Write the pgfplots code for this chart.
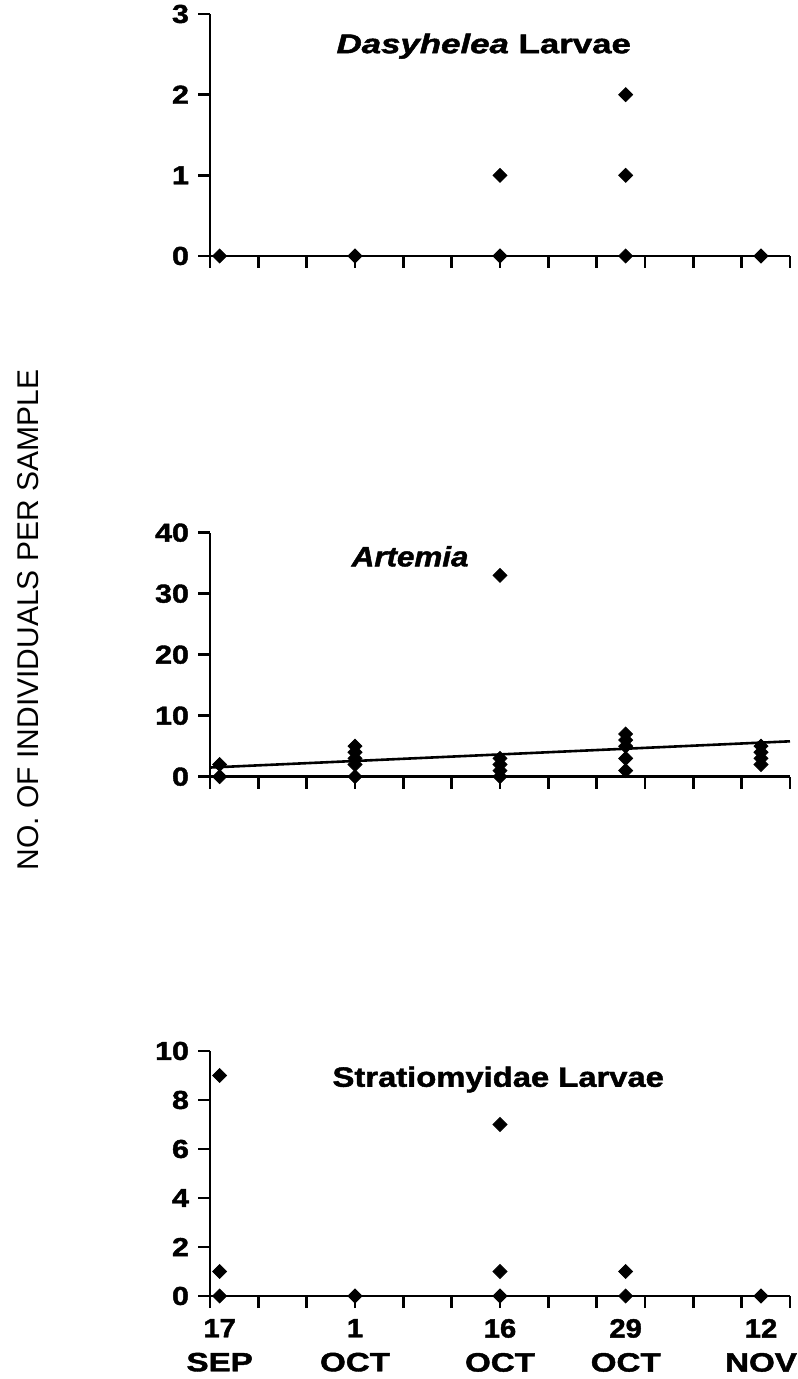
\documentclass[border=0pt]{standalone}
\usepackage{fontspec}
\setmainfont{Liberation Sans}[BoldFeatures={FakeBold=1.5}, BoldItalicFeatures={FakeBold=1.5}]
\usepackage{graphicx}
\usepackage{pgfplots}
\pgfplotsset{compat=1.18}

% two-line date label under the bottom panel
\newcommand\xl[2]{\scalebox{1.1}[1]{#1}\\\scalebox{1.25}[1]{#2}}

\tikzset{ttl/.style={anchor=base, font=\fontsize{14}{17}\bfseries\selectfont}}

\pgfplotsset{
  panel/.style={
    scale only axis, width=290pt,
    anchor=south west, clip=false,
    axis lines=left, axis line style={-, line width=1.3pt},
    xmin=0, xmax=60, xtick={0,5,...,60}, xticklabels={},
    tick align=outside, major tick length=6pt,
    tick style={black, line width=1.3pt},
    /pgf/number format/assume math mode=true,
    yticklabel style={font=\fontsize{13}{15}\bfseries\selectfont, xshift=-1pt},
    yticklabel={\scalebox{1.17}[1]{\pgfmathprintnumber{\tick}}},
  },
  pts/.style={only marks, mark=square*, mark size=2.47pt,
    mark options={rotate=45, fill=black, draw=black}},
}

% days counted from 16 Sep; samples on 17 Sep, 1 Oct, 16 Oct, 29 Oct, 12 Nov
\pgfplotstableread{
x y
1 0
15 0
30 0
30 1
43 0
43 1
43 2
57 0
}\dasyhelea

\pgfplotstableread{
x y
1 0
1 2
15 0
15 2
15 3
15 4
15 5
30 0
30 1
30 2
30 3
30 33
43 1
43 3
43 5
43 6
43 7
57 2
57 3
57 4
57 5
}\artemia

\pgfplotstableread{
x y
1 0
1 1
1 9
15 0
30 0
30 1
30 7
43 0
43 1
57 0
}\stratiomyidae

\begin{document}
\begin{tikzpicture}
\path[use as bounding box] (0,0) rectangle (398.5pt,689.5pt);

\begin{axis}[panel, at={(105pt,561.5pt)}, height=121pt,
  ymin=0, ymax=3, ytick={0,1,2,3}]
  \addplot[pts] table {\dasyhelea};
  \node[ttl, font=\fontsize{13.5}{16}\bfseries\selectfont] at (rel axis cs:0.472,0.838)
    {\scalebox{1.29}[1]{\itshape Dasyhelea\upshape\ Larvae}};
\end{axis}

\begin{axis}[panel, at={(105pt,301.15pt)}, height=122pt,
  ymin=0, ymax=40, ytick={0,10,...,40}]
  \addplot[pts] table {\artemia};
  % fitted trend line
  \addplot[black, line width=1.3pt, no marks] coordinates {(0,1.5) (60,5.8)};
  \node[ttl] at (rel axis cs:0.345,0.862)
    {\scalebox{1.12}[1]{\itshape Artemia}};
\end{axis}

\begin{axis}[panel, at={(105pt,41.5pt)}, height=122.5pt,
  ymin=0, ymax=10, ytick={0,2,...,10},
  extra x ticks={1,15,30,43,57},
  extra x tick labels={\xl{17}{SEP},\xl{1}{OCT},\xl{16}{OCT},\xl{29}{OCT},\xl{12}{NOV}},
  extra x tick style={major tick length=0pt, tick style={draw=none},
    xticklabel style={align=center, yshift=-8pt,
      font=\fontsize{13.25}{17}\bfseries\selectfont}}]
  \addplot[pts] table {\stratiomyidae};
  \node[ttl] at (rel axis cs:0.497,0.854)
    {\scalebox{1.17}[1]{Stratiomyidae Larvae}};
\end{axis}

\node[rotate=90, font=\fontsize{15}{18}\selectfont] at (14pt,379.5pt)
  {NO. OF INDIVIDUALS PER SAMPLE};
\end{tikzpicture}
\end{document}
